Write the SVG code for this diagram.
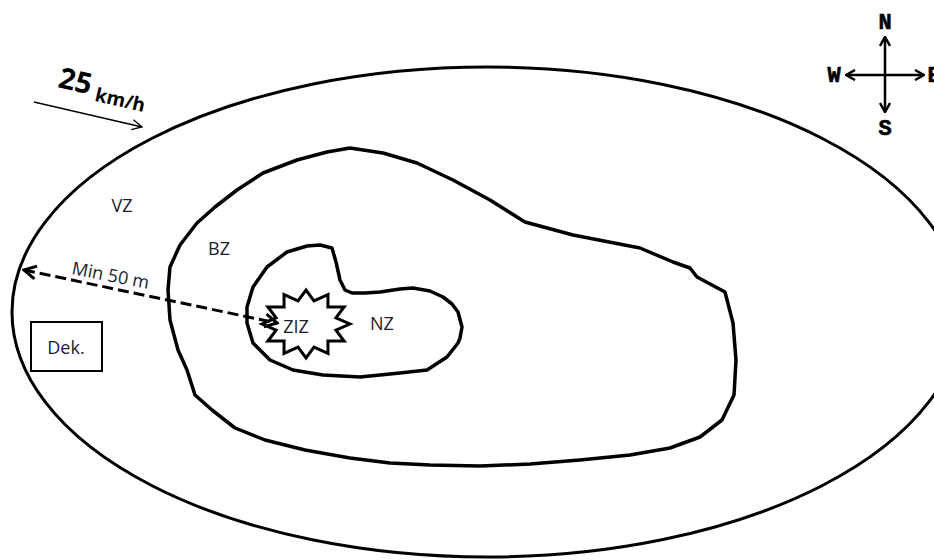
<svg xmlns="http://www.w3.org/2000/svg" width="934" height="560" viewBox="0 0 934 560">
<defs>
<style>
.zone{fill:none;stroke:#000;stroke-width:3.5;stroke-linejoin:round;stroke-linecap:round}
.lbl{font-family:"Open Sans","Liberation Sans",sans-serif;font-size:18px;fill:#1c1c30}
.cmp{font-family:"Liberation Mono","DejaVu Sans Mono",monospace;font-weight:bold;font-size:22px;fill:#000;stroke:#000;stroke-width:0.6}
</style>
<marker id="thin" viewBox="0 0 12 12" refX="11" refY="6" markerWidth="12" markerHeight="12" markerUnits="userSpaceOnUse" orient="auto">
<path d="M1,1 L11,6 L1,11" fill="none" stroke="#000" stroke-width="1.3"/>
</marker>
<marker id="thick" viewBox="0 0 16 16" refX="14" refY="8" markerWidth="16" markerHeight="16" markerUnits="userSpaceOnUse" orient="auto-start-reverse">
<path d="M2,1.5 L14,8 L2,14.5" fill="none" stroke="#000" stroke-width="3" stroke-linejoin="miter"/>
</marker>
<marker id="cmpA" viewBox="0 0 12 12" refX="11" refY="6" markerWidth="12" markerHeight="12" markerUnits="userSpaceOnUse" orient="auto">
<path d="M2,1 L11,6 L2,11" fill="none" stroke="#000" stroke-width="2.5"/>
</marker>
</defs>
<rect width="934" height="560" fill="#fff"/>

<g id="vz">
<ellipse cx="487" cy="312" rx="475" ry="245" fill="none" stroke="#000" stroke-width="3"/>
<text class="lbl" x="122" y="212" text-anchor="middle">VZ</text>
</g>

<g id="bz">
<polygon class="zone" points="350,148 383,153 417,163 453,180 490,200 525,222 573,235 640,248 673,262 690,268 697,277 725,292 733,323 736,360 734,395 722,420 700,437 670,448 630,455 580,460 530,464 480,466 430,465 390,463 350,458 305,450 265,440 235,428 212,410 195,395 187,370 178,350 170,320 168,290 170,267 180,245 197,223 215,207 237,190 263,173 297,160 327,152"/>
<text class="lbl" x="219" y="255" text-anchor="middle">BZ</text>
</g>

<g id="nz">
<polygon class="zone" points="320,245 332,248 336,262 340,280 345,290 352,293 365,293 380,292 400,289 413,288 430,291 443,297 452,304 458,312 462,327 460,338 458,343 447,357 427,370 400,373 360,377 323,375 293,370 270,360 253,343 247,323 247,307 253,287 267,267 287,252 307,246"/>
<text class="lbl" x="382" y="330" text-anchor="middle">NZ</text>
</g>

<g id="ziz">
<polygon fill="#fff" stroke="#000" stroke-width="3" stroke-linejoin="miter" points="350,324 335.9,330.2 344.1,341 327.9,341 328,353.4 314,347.2 306,358 298,347.2 284,353.4 284.1,341 267.9,341 276.1,330.2 262,324 276.1,317.8 267.9,307 284.1,307 284,294.6 298,300.8 306,290 314,300.8 328,294.6 327.9,307 344.1,307 335.9,317.8"/>
<text class="lbl" x="296" y="333" text-anchor="middle" font-size="16">ZIZ</text>
</g>

<g id="dek">
<rect x="31" y="322" width="71" height="49" fill="#fff" stroke="#000" stroke-width="2"/>
<text class="lbl" x="66" y="354" text-anchor="middle">Dek.</text>
</g>

<g id="wind">
<text font-family="'Open Sans','Liberation Sans',sans-serif" font-weight="bold" fill="#000" transform="translate(57,87) rotate(13)"><tspan font-size="29">25</tspan><tspan dx="6" dy="5" font-size="19">km/h</tspan></text>
</g>

<g id="compass">
<text class="cmp" x="885" y="29" text-anchor="middle">N</text>
<text class="cmp" x="885" y="135" text-anchor="middle">S</text>
<text class="cmp" x="834" y="82" text-anchor="middle">W</text>
<text class="cmp" x="934" y="82" text-anchor="middle">E</text>
<g stroke="#000" stroke-width="2.5">
<line x1="885" y1="75" x2="885" y2="37" marker-end="url(#cmpA)"/>
<line x1="885" y1="75" x2="885" y2="112" marker-end="url(#cmpA)"/>
<line x1="885" y1="75" x2="846" y2="75" marker-end="url(#cmpA)"/>
<line x1="885" y1="75" x2="924" y2="75" marker-end="url(#cmpA)"/>
</g>
</g>

<g id="connectors">
<line x1="34" y1="102" x2="142" y2="127" stroke="#000" stroke-width="1.3" marker-end="url(#thin)"/>
<line x1="24" y1="270" x2="277" y2="323" stroke="#000" stroke-width="3" stroke-dasharray="11,5" marker-start="url(#thick)" marker-end="url(#thick)"/>
<text class="lbl" font-size="15" transform="translate(71,274) rotate(11)">Min 50 m</text>
</g>
</svg>
